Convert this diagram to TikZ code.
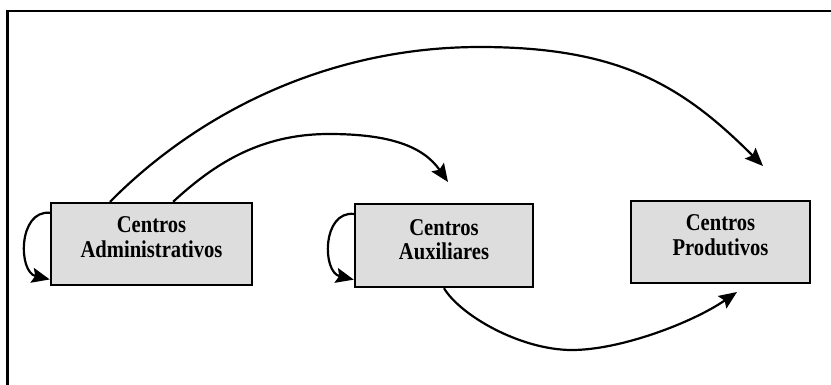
\documentclass[tikz,border=0pt]{standalone}
\usepackage{fontspec}
\setmainfont{Liberation Serif}
\usetikzlibrary{arrows.meta,calc}
\definecolor{boxgray}{HTML}{DDDDDD}
\newcommand{\boxtxt}[2]{\scalebox{1}[1.17]{\fontsize{20.6}{21}\selectfont\bfseries\begin{tabular}{@{}c@{}}#1\\#2\end{tabular}}}
\begin{document}
\begin{tikzpicture}[x=1pt,y=-1pt,
  box/.style={draw=black, line width=2.4pt, fill=boxgray, inner sep=0pt},
  conn/.style={line width=2.2pt, -{Stealth[length=18pt,width=15pt,inset=3pt]}}]
\useasboundingbox (0,0) rectangle (831,384);
\begin{scope}
  \clip (0,0) rectangle (831,384);
  \draw[line width=2.3pt] (7.5,10.8) rectangle (900,500);
\end{scope}
\node[box, minimum width=201pt, minimum height=82pt,
  label={[yshift=4pt]center:\boxtxt{Centros}{Administrativos}}] (b1) at (151.5,244) {};
\node[box, minimum width=178pt, minimum height=83pt,
  label={[yshift=3pt]center:\boxtxt{Centros}{Auxiliares}}] (b2) at (444,245.5) {};
\node[box, minimum width=179pt, minimum height=82pt,
  label={[yshift=4pt]center:\boxtxt{Centros}{Produtivos}}] (b3) at (720.5,242) {};
\coordinate (e1) at (763,166);
\coordinate (e2) at (448,182);
\coordinate (e3) at (737,292);
% big arc
\draw[conn] ($(b1.north west)!0.296!(b1.north east)$) .. controls (200,111) and (330,47) .. (480,47)
   .. controls (620,47) and (683,86) .. (e1);
% medium arc
\draw[conn] ($(b1.north west)!0.606!(b1.north east)$) .. controls (213,165) and (259,134) .. (329,134)
   .. controls (389,134) and (423,146) .. (e2);
% bottom arc
\draw[conn] (b2.south) .. controls (460,315) and (520,350) .. (572,350)
   .. controls (620,350) and (692,323) .. (e3);
% self loops
\draw[conn] ($(b1.north west)!0.13!(b1.south west)$) .. controls (18,210) and (18,272) .. ($(b1.north west)!0.92!(b1.south west)$);
\draw[conn] ($(b2.north west)!0.13!(b2.south west)$) .. controls (322,211) and (322,272) .. ($(b2.north west)!0.9!(b2.south west)$);
\end{tikzpicture}
\end{document}
